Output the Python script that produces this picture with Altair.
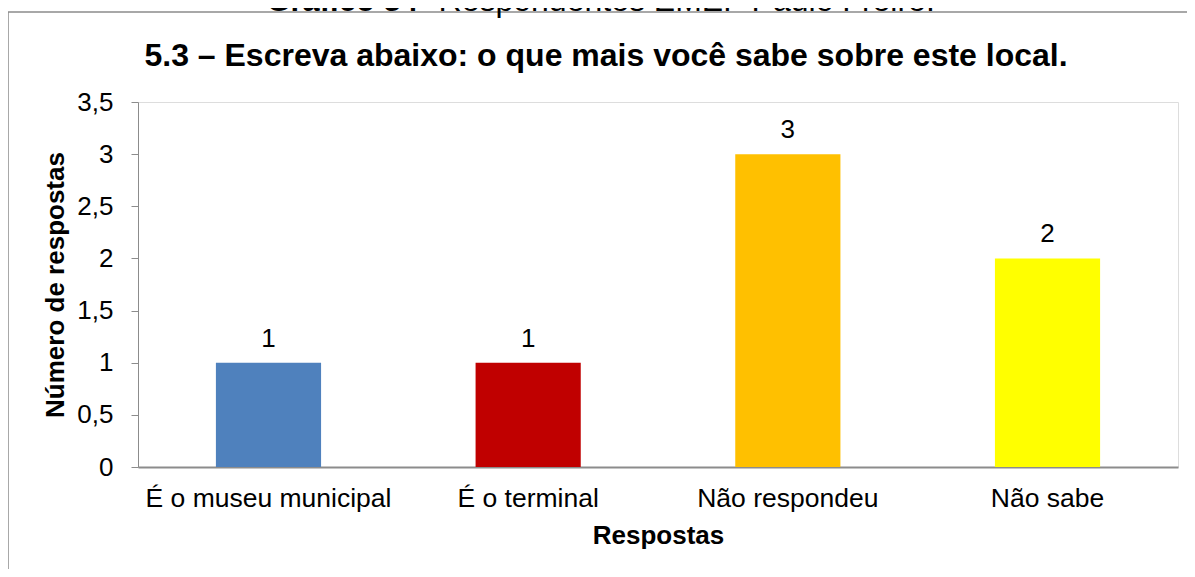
import altair as alt
import pandas as pd

categories = ["É o museu municipal", "É o terminal", "Não respondeu", "Não sabe"]
values = [1, 1, 3, 2]
colors = ["#4F81BD", "#C00000", "#FFC000", "#FFFF00"]

title_text = "5.3 – Escreva abaixo: o que mais você sabe sobre este local."
caption_bold = "Gráfico 34"
caption_rest = " - Respondentes EMEF Paulo Freire."
y_title = "Número de respostas"
x_title = "Respostas"

df = pd.DataFrame({"cat": categories, "val": values, "color": colors})
FONT = "Liberation Sans"

x_enc = alt.X("cat:N", sort=categories, title=x_title,
              scale=alt.Scale(paddingInner=0.595, paddingOuter=0.3),
              axis=alt.Axis(labelAngle=0, labelFontSize=26.5, labelFont=FONT, labelColor="#000",
                            labelPadding=18.5, labelLimit=0, ticks=False, domainColor="#8C8C8C", domainWidth=2,
                            titleFont=FONT, titleFontSize=26, titleFontWeight="bold",
                            titleColor="#000", titlePadding=10))
y_enc = alt.Y("val:Q", title=y_title,
              scale=alt.Scale(domain=[0, 3.5], nice=False),
              axis=alt.Axis(values=[0, 0.5, 1, 1.5, 2, 2.5, 3, 3.5], grid=False,
                            labelExpr="replace(toString(datum.value), '.', ',')",
                            labelFontSize=26, labelFont=FONT, labelColor="#000",
                            tickSize=7, tickColor="#8C8C8C", domainColor="#8C8C8C",
                            labelPadding=18, titleFont=FONT, titleFontSize=26,
                            titleFontWeight="bold", titleColor="#000", titlePadding=8))

base = alt.Chart(df)
bars = base.mark_bar().encode(x=x_enc, y=y_enc, color=alt.Color("color:N", scale=None))
labels = base.mark_text(baseline="alphabetic", dy=-16, fontSize=26, font=FONT, color="#000").encode(
    x=alt.X("cat:N", sort=categories), y="val:Q", text="val:Q")

frame = alt.Chart(pd.DataFrame({"a": [0]})).mark_rect(fill=None, stroke="#8C8C8C", strokeWidth=1.5).encode(
    x=alt.value(-130), x2=alt.value(1065), y=alt.value(-90), y2=alt.value(480))

title = alt.Chart(pd.DataFrame({"t": [title_text]})).mark_text(
    fontSize=32, fontWeight="bold", font=FONT, color="#000", baseline="alphabetic", align="center"
).encode(x=alt.value(468), y=alt.value(-36), text="t:N")

cap1 = alt.Chart(pd.DataFrame({"t": [caption_bold]})).mark_text(
    fontSize=31, fontWeight="bold", font=FONT, color="#000", baseline="alphabetic", align="right"
).encode(x=alt.value(280), y=alt.value(-91.5), text="t:N")
cap2 = alt.Chart(pd.DataFrame({"t": [caption_rest]})).mark_text(
    fontSize=32, font=FONT, color="#000", baseline="alphabetic", align="left"
).encode(x=alt.value(281), y=alt.value(-91.5), text="t:N")

chart = alt.layer(frame, bars, labels, title, cap1, cap2).properties(
    width=1040, height=365,
    autosize=alt.AutoSizeParams(type="none"),
    padding={"left": 130, "top": 94, "right": 9, "bottom": 102},
).configure_view(stroke=None).configure(background="white")

chart.save("out.html", embed_options={"renderer": "svg", "actions": False})
